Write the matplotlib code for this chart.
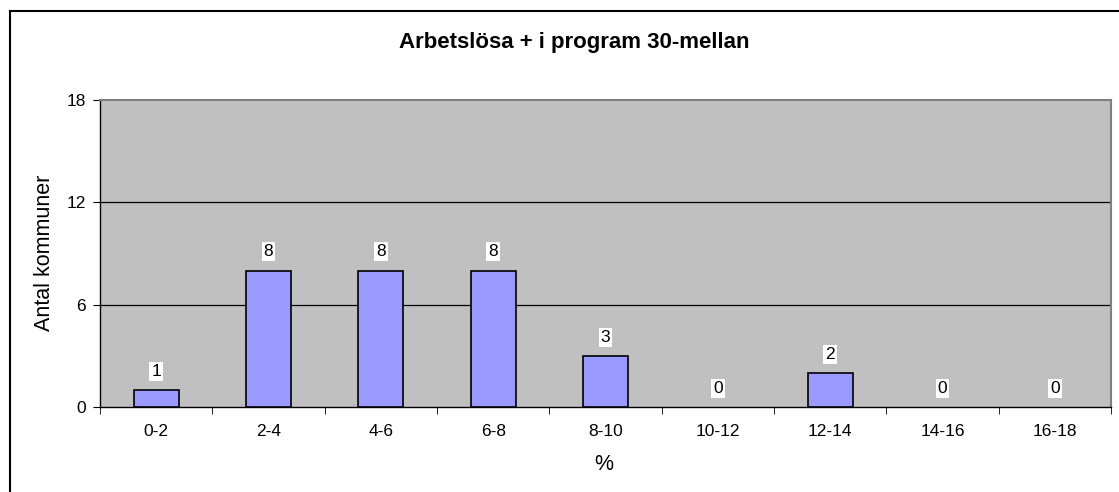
import matplotlib
matplotlib.use("Agg")
import matplotlib.pyplot as plt
from matplotlib.lines import Line2D

categories = ["0-2", "2-4", "4-6", "6-8", "8-10", "10-12", "12-14", "14-16", "16-18"]
values = [1, 8, 8, 8, 3, 0, 2, 0, 0]
yticks = [0, 6, 12, 18]

plt.rcParams['font.family'] = ['Liberation Sans', 'DejaVu Sans']

W, H = 1119, 492
fig = plt.figure(figsize=(W / 100, H / 100), dpi=100)
fig.patch.set_facecolor('white')

# figure border (left and top visible)
fig.add_artist(Line2D([10 / W, 10 / W], [0, 1 - 11 / H], color='black', lw=1.5, transform=fig.transFigure))
fig.add_artist(Line2D([10 / W, 1], [1 - 11 / H, 1 - 11 / H], color='black', lw=1.5, transform=fig.transFigure))

left, right, top, bottom = 100, 1111, 100, 407
ax = fig.add_axes([left / W, (H - bottom) / H, (right - left) / W, (bottom - top) / H])
ax.set_facecolor('#C0C0C0')

x = list(range(len(categories)))
edges = ['black' if v > 0 else 'none' for v in values]
ax.bar(x, values, width=0.4, color='#9999FF', edgecolor=edges, linewidth=1.2, zorder=3)

ax.set_xlim(-0.5, len(categories) - 0.5)
ax.set_ylim(0, 18)
ax.set_yticks(yticks)
ax.set_yticklabels([str(t) for t in yticks], fontsize=12.5)
ax.set_xticks(x)
ax.set_xticklabels(categories, fontsize=12.5)
ax.tick_params(axis='x', length=0, pad=12)
ax.set_xticks([i + 0.5 for i in range(-1, len(categories))], minor=True)
ax.tick_params(axis='x', which='minor', length=5, direction='out', color='black')
ax.tick_params(axis='y', length=5, direction='out', color='black', pad=5)

for t in yticks[1:3]:
    ax.axhline(t, color='black', lw=0.9, zorder=1)

for s in ['top', 'right']:
    ax.spines[s].set_color('#808080')
    ax.spines[s].set_linewidth(1.5)
ax.spines['left'].set_color('black')
ax.spines['bottom'].set_color('black')
ax.spines['left'].set_linewidth(1)
ax.spines['bottom'].set_linewidth(1)

for xi, v in zip(x, values):
    ax.annotate(str(v), (xi, v), xytext=(0, 13.5), textcoords='offset points',
                ha='center', va='center', fontsize=12.5, zorder=4,
                bbox=dict(boxstyle='square,pad=0.12', facecolor='white', edgecolor='none'))

fig.text(45 / W, 1 - 253 / H, "Antal kommuner", rotation=90, ha='center', va='center', fontsize=15.5)
fig.text(604 / W, 1 - 465 / H, "%", ha='center', va='center', fontsize=15.5)

fig.text(574 / W, 1 - 48 / H, "Arbetslösa + i program 30-mellan", ha='center', va='baseline',
         fontsize=16, fontweight='bold')

fig.savefig("out.png", dpi=100)
